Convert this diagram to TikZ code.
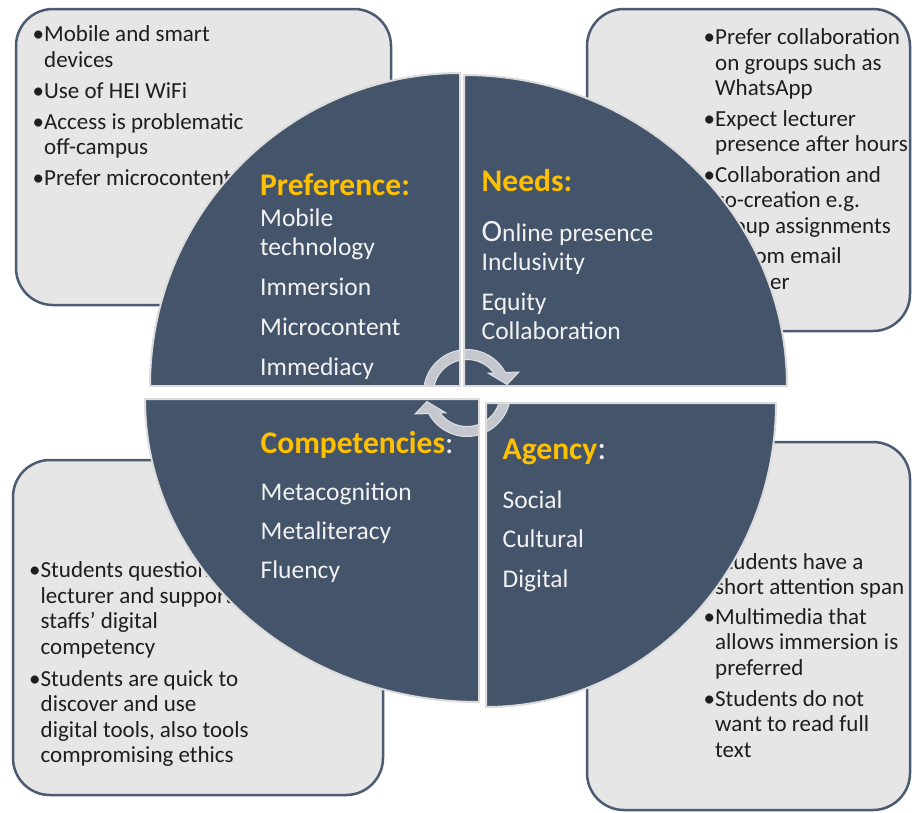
\documentclass[tikz,border=0pt]{standalone}
\usepackage{fontspec}
\setmainfont{Carlito}
\definecolor{quad}{HTML}{44546A}
\definecolor{qline}{HTML}{DCDCDC}
\definecolor{boxfill}{HTML}{E7E6E6}
\definecolor{boxline}{HTML}{4B5B71}
\definecolor{boxink}{HTML}{1E1E1E}
\definecolor{headyellow}{HTML}{FFC000}
\definecolor{itemwhite}{HTML}{F2F2F2}
\definecolor{arrowfill}{HTML}{C4C8CE}
\definecolor{arrowline}{HTML}{DEE0E3}
\newcommand\bulmark{\makebox[11.5pt][l]{\textbullet}}
\newcommand\bulind{\hspace*{11.5pt}}
\newcommand\quadTL{(460,386) -- (150,386) arc[start angle=180, end angle=270, x radius=310, y radius=313] -- cycle}
\newcommand\quadTR{(464,386) -- (464,75) arc[start angle=270, end angle=360, x radius=323, y radius=311] -- cycle}
\newcommand\quadBL{(479,399) -- (145,399) arc[start angle=180, end angle=90, x radius=334, y radius=303] -- cycle}
\newcommand\quadBR{(486,403) -- (776,403) arc[start angle=0, end angle=90, x radius=290, y radius=304] -- cycle}
\newcommand\cyclearrowpaths{%
  \begin{scope}[shift={(467,393)}, yscale=-1]
    \path[cyclearrow] (180:43.5) arc[start angle=180, end angle=28.2, radius=43.5]
      -- (22:56) -- (12:41) -- (43:29) -- (36.6:33.5)
      arc[start angle=36.6, end angle=180, radius=33.5] -- cycle;
    \path[cyclearrow, rotate=180] (180:43.5) arc[start angle=180, end angle=28.2, radius=43.5]
      -- (22:56) -- (12:41) -- (43:29) -- (36.6:33.5)
      arc[start angle=36.6, end angle=180, radius=33.5] -- cycle;
  \end{scope}}
\begin{document}
\begin{tikzpicture}[x=1pt, y=-1pt,
  infobox/.style={fill=boxfill, draw=boxline, line width=2.5pt, rounded corners=37pt},
  boxtext/.style={anchor=base west, inner sep=0pt, text=boxink, font=\fontsize{23}{25.5}\selectfont},
  headtext/.style={anchor=base west, inner sep=0pt, text=headyellow, font=\bfseries\fontsize{31.5}{31.5}\selectfont},
  itemtext/.style={anchor=base west, inner sep=0pt, text=itemwhite, font=\fontsize{25.5}{29}\selectfont},
  quadfill/.style={fill=quad},
  quadline/.style={draw=qline, line width=2pt},
  cyclearrow/.style={fill=arrowfill, draw=arrowline, line width=1pt}]
\useasboundingbox (0,0) rectangle (912,812);

% side boxes
\path[infobox] (16,9) rectangle (391,305);
\path[infobox] (587,9) rectangle (910,331);
\path[infobox] (13,460) rectangle (383,795);
\path[infobox] (587,442) rectangle (910,810);

\node[boxtext] (tltext) at (32.5,41.5) {\parbox[t]{400pt}{\raggedright
  \bulmark Mobile and smart\\ \bulind devices\\[5.5pt]
  \bulmark Use of HEI WiFi\\[5.5pt]
  \bulmark Access is problematic\\ \bulind off-campus\\[5.5pt]
  \bulmark Prefer microcontent}};

\node[boxtext] (trtext) at (703.5,44.5) {\parbox[t]{400pt}{\raggedright
  \bulmark Prefer collaboration\\ \bulind on groups such as\\ \bulind WhatsApp\\[5pt]
  \bulmark Expect lecturer\\ \bulind presence after hours\\[5pt]
  \bulmark Collaboration and\\ \bulind co-creation e.g.\\ \bulind group assignments\\[5pt]
  \bulmark Seldom email\\ \bulind another}};

\node[boxtext] (bltext) at (29,577.5) {\parbox[t]{400pt}{\raggedright
  \bulmark Students question\\ \bulind lecturer and support\\ \bulind staffs' digital\\ \bulind competency\\[6.5pt]
  \bulmark Students are quick to\\ \bulind discover and use\\ \bulind digital tools, also tools\\ \bulind compromising ethics}};

\node[boxtext] (brtext) at (703.5,569) {\parbox[t]{400pt}{\raggedright
  \bulmark Students have a\\ \bulind short attention span\\[4pt]
  \bulmark Multimedia that\\ \bulind allows immersion is\\ \bulind preferred\\[5.5pt]
  \bulmark Students do not\\ \bulind want to read full\\ \bulind text}};

% central cycle matrix
\fill[quadfill] \quadTL;
\fill[quadfill] \quadTR;
\fill[quadfill] \quadBL;
\fill[quadfill] \quadBR;
\begin{scope}\clip \quadTL; \cyclearrowpaths \end{scope}
\begin{scope}\clip \quadTR; \cyclearrowpaths \end{scope}
\begin{scope}\clip \quadBL; \cyclearrowpaths \end{scope}
\begin{scope}\clip \quadBR; \cyclearrowpaths \end{scope}
\draw[quadline] \quadTL;
\draw[quadline] \quadTR;
\draw[quadline] \quadBL;
\draw[quadline] \quadBR;

% quadrant texts
\node[headtext] (prefhead) at (260,195.5) {Preference:};
\node[itemtext] (prefitems) at (260,226) {\parbox[t]{200pt}{\raggedright
  Mobile\\ technology\\[11pt] Immersion\\[11.5pt] Microcontent\\[10.5pt] Immediacy}};

\node[headtext] (needhead) at (481.5,191) {Needs:};
\node[itemtext] (needitems) at (481.5,241) {\parbox[t]{250pt}{\raggedright
  {\fontsize{31}{29}\selectfont O}nline presence\\ Inclusivity\\[11pt] Equity\\ Collaboration}};

\node[headtext] (comphead) at (260.5,453) {Competencies{\mdseries\color{itemwhite}:}};
\node[itemtext] (compitems) at (260.5,500) {\parbox[t]{200pt}{\raggedright
  Metacognition\\[10pt] Metaliteracy\\[10pt] Fluency}};

\node[headtext] (agenhead) at (502.5,459.5) {Agency{\mdseries\fontsize{34}{34}\selectfont\color{itemwhite}:}};
\node[itemtext] (agenitems) at (502.5,508) {\parbox[t]{200pt}{\raggedright
  Social\\[10.5pt] Cultural\\[10.5pt] Digital}};
\end{tikzpicture}
\end{document}
